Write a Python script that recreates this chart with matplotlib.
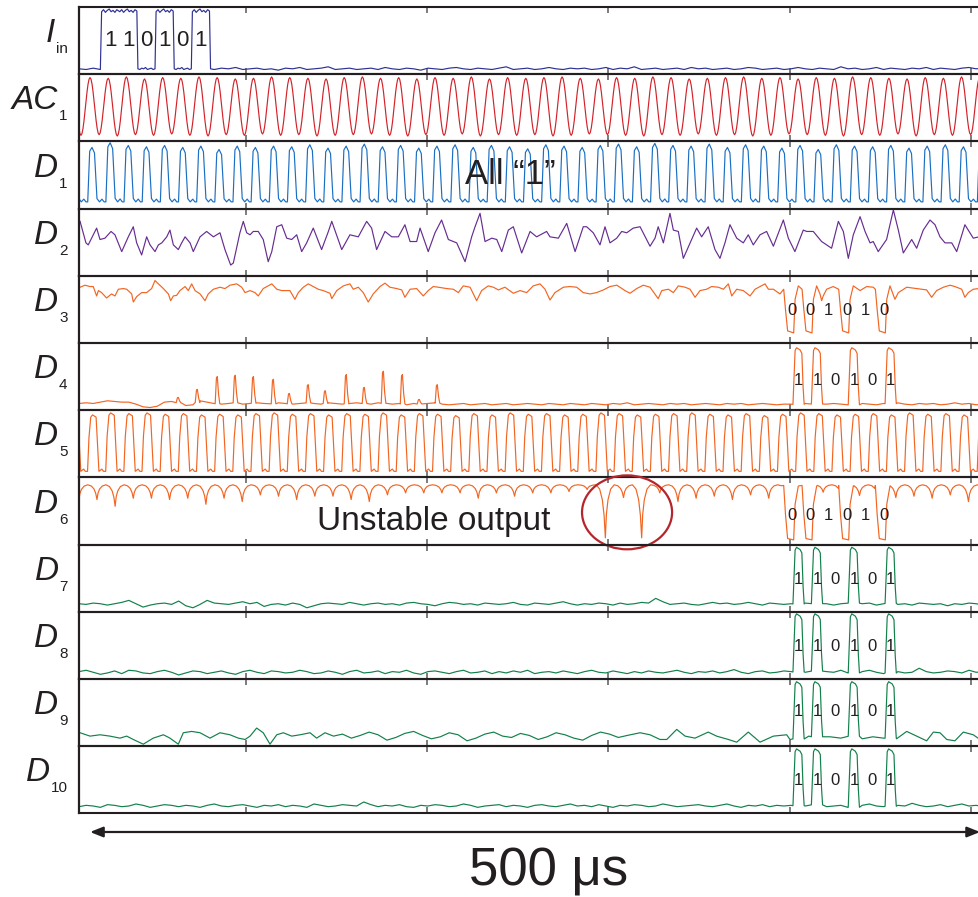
import numpy as np
import matplotlib
matplotlib.use("Agg")
import matplotlib.pyplot as plt
from matplotlib.patches import Ellipse, FancyArrowPatch
from matplotlib.transforms import blended_transform_factory

plt.rcParams['font.family'] = ['Liberation Sans', 'DejaVu Sans']

# ---------------------------------------------------------------- data
# All levels are given in percent of the panel height, times in µs.

carrier_period_us = 10.2
first_peak_us = 6.2
tick_us = [93.8, 195.5, 297.2, 399.4, 501.1]
scale_bar_start_us = 6.2
scale_bar_len_us = 500.0
noise_step_us = 4.0

# input word I_in (NRZ)
iin_bits = [1, 1, 0, 1, 0, 1]
iin_t0_us = 12.4
iin_bit_us = 10.2
iin_high_ripple = [93, 96, 92, 95, 97, 93, 95, 92, 96, 94]
iin_low_ripple = [8, 7, 9, 8, 10, 7, 8, 9, 7, 8]
iin_noise = [8, 7, 9, 7, 8, 9, 7, 8, 9, 8, 7, 9, 8, 10, 7, 8, 6, 9, 8, 7,
             9, 8, 10, 7, 8, 9, 7, 8, 6, 9, 8, 10, 7, 8, 9, 11, 7, 8, 9, 7,
             8, 9, 7, 10, 8, 7, 9, 8, 6, 9, 8, 7, 9, 10, 8, 7, 9, 8, 7, 9,
             11, 7, 8, 9, 7, 8, 10, 8, 7, 9, 8, 9, 7, 8, 10, 7, 9, 8, 11, 7,
             8, 9, 7, 8, 9, 7, 10, 8, 9, 7, 8, 9, 7, 8, 10, 9, 7, 8, 9, 7,
             8, 10, 8, 7, 9, 8, 7, 11, 8, 9, 7, 8, 10, 7, 9, 8, 7, 9, 8, 10,
             7, 9, 8, 7, 9, 10, 8, 9]

# AC_1 carrier: one period sampled from the peak, plus per-cycle extremes
ac1_shape = [1.0, 0.97, 0.883, 0.75, 0.587, 0.413, 0.25, 0.117, 0.03,
             0.0, 0.03, 0.117, 0.25, 0.413, 0.587, 0.75, 0.883, 0.97]
ac1_peak = [94, 95, 94, 96, 93, 95, 94, 96, 95, 93, 94, 96, 95, 94, 93, 95, 96,
            94, 95, 93, 95, 94, 96, 93, 95, 94, 95, 96, 94, 93, 95, 94, 96, 95,
            93, 94, 95, 96, 94, 95, 93, 95, 94, 96, 95, 94, 93, 95, 94, 96, 95, 94]
ac1_trough = [9, 10, 8, 10, 9, 11, 9, 8, 10, 9, 11, 9, 10, 8, 9, 10, 11, 9, 8,
              10, 9, 11, 8, 10, 9, 10, 8, 9, 11, 10, 9, 8, 10, 9, 11, 9, 10, 8,
              9, 11, 10, 9, 8, 10, 9, 11, 8, 10, 9, 10, 9, 10]

# D_1 pulse train
d1_shape_t = [0, 1.1, 2.4, 3.8, 5.2, 6.6, 8.0, 9.2]
d1_shape_v = [0, 0.93, 1.0, 0.9, 0.06, 0.0, 0.05, 0.0]
d1_lead_us = 1.3
d1_low = 10
d1_peak = [92, 91, 98, 94, 92, 94, 91, 93, 88, 93, 91, 93, 92, 95, 90, 93, 96,
           92, 94, 90, 93, 95, 91, 94, 92, 89, 95, 93, 91, 94, 96, 92, 97, 94,
           93, 96, 91, 95, 93, 90, 94, 88, 95, 93, 92, 94, 90, 93, 95, 92, 94, 93]

# D_2 trace
d2_t = [0.6, 3.9, 5.2, 9.9, 11.8, 14.6, 18.0, 20.2, 24.0, 27.7, 30.5, 32.4, 35.2,
        38.0, 39.9, 42.7, 44.6, 46.5, 49.3, 51.1, 53.0, 55.8, 57.7, 59.6, 62.4,
        64.2, 68.0, 71.7, 75.5, 79.2, 82.0, 85.2, 86.7, 90.4, 92.3, 94.2, 96.1,
        97.9, 100.7, 103.5, 106.3, 108.3, 111.1, 113.9, 116.7, 119.5, 122.3,
        125.1, 127.9, 131.6, 136.3, 140.1,
        142.0, 147.6, 152.2, 156.9, 161.6, 164.4, 167.2, 171.9, 175.7, 179.4,
        183.1, 186.0, 189.7, 191.6, 196.2, 200.0, 203.7, 207.5, 212.2, 216.9,
        220.6, 222.5, 225.3, 228.1, 231.9, 234.7, 237.5, 241.2, 244.0, 248.7,
        253.4, 257.1, 262.7, 264.6, 269.3, 274.0, 278.7, 283.3, 285.2, 288.9,
        292.7, 295.5, 298.3, 302.1, 304.9, 307.7, 311.4, 315.2,
        320.8, 323.6, 325.4, 328.3, 332.0, 333.9, 336.7, 339.5, 343.3, 347.0,
        349.8, 353.5, 357.3, 360.1, 362.9, 365.7, 369.5, 373.2, 376.0, 378.8,
        382.6, 386.3, 390.1, 395.7, 398.5, 402.2, 406.9, 408.8, 412.5, 417.2,
        422.8, 426.6, 429.4, 432.2, 435.0, 438.8, 441.6, 444.4, 446.2, 449.0,
        453.7, 457.5, 460.3, 463.1, 467.8, 470.6, 474.3, 478.1, 480.9, 483.7,
        486.5, 490.3, 493.1, 497.7, 502.4, 505.6]
d2_v = [81, 49, 46, 71, 54, 56, 66, 61, 36, 58, 73, 49, 31, 58, 46, 36, 46, 49,
        58, 68, 46, 39, 49, 58, 49, 36, 58, 66, 58, 64, 39, 16, 19, 64, 81, 64,
        61, 66, 66, 54, 21, 36, 73, 76, 56, 54, 61, 36, 49, 71, 39, 66,
        81, 39, 61, 58, 81, 71, 39, 66, 58, 58, 76, 51, 51, 71, 36, 64, 83, 54,
        49, 21, 58, 73, 93, 51, 56, 54, 36, 68, 73, 34, 66, 58, 66, 58, 56, 78,
        36, 73, 73, 64, 46, 73, 49, 56, 66, 64, 71, 73,
        44, 56, 73, 49, 93, 68, 66, 26, 49, 71, 58, 73, 39, 26, 49, 76, 56, 49,
        61, 46, 61, 66, 44, 83, 56, 36, 68, 66, 66, 51, 41, 81, 66, 26, 61, 88,
        66, 49, 51, 36, 54, 98, 68, 34, 54, 41, 68, 83, 76, 58, 49, 49, 36, 76,
        56, 58]

# D_3 background trace (outside the dips) and output word
d3_bg_t = [0.6, 3.4, 6.2, 8.0, 9.9, 10.9, 12.7, 15.5, 18.3, 20.2, 22.1, 24.9,
           26.8, 29.6, 30.5, 32.4, 35.2, 38.0, 40.8, 42.7, 44.6, 47.4, 50.2,
           51.5, 53.0, 54.9, 56.7, 59.6, 61.4, 63.3, 65.2, 68.0, 70.8, 72.6,
           75.5, 79.2, 82.0, 84.8, 88.6, 91.4, 93.3, 96.1, 98.9, 100.7, 103.5,
           108.3, 111.1, 113.9, 118.5, 121.3, 123.2, 126.0, 128.8, 131.6,
           134.4, 137.2, 141.0,
           142.0, 144.8, 148.5, 152.2, 154.1, 156.9, 159.7, 162.5, 165.3, 169.1,
           171.9, 174.7, 178.5, 181.3, 183.1, 186.0, 189.7, 193.4, 196.2, 199.0,
           201.9, 206.6, 210.3, 213.1, 215.9, 219.7, 223.4, 226.2, 229.9, 232.8,
           235.6, 239.3, 244.0, 247.8, 251.5, 255.2, 259.0, 261.8, 264.6, 267.4,
           272.1, 275.8, 279.6, 283.3, 287.1, 290.8, 294.6, 298.3, 302.1, 303.9,
           306.7, 309.6, 313.3, 317.0, 320.8, 325.4,
           327.4, 331.1, 333.9, 336.7, 340.5, 343.3, 346.1, 348.9, 352.6, 355.4,
           359.2, 362.0, 364.8, 366.7, 369.5, 373.2, 377.0, 379.8, 382.6, 385.4,
           387.3, 390.1, 393.8, 416.3, 417.2, 418.1, 420.0, 423.7, 438.8, 442.5,
           446.2, 458.4, 460.3, 465.0, 470.6, 476.2, 479.0, 481.8, 485.6, 489.3,
           492.1, 495.9, 497.7, 499.6, 502.4, 505.6]
d3_bg_v = [83, 86, 84, 84, 70, 78, 75, 67, 73, 70, 80, 81, 80, 73, 61, 69, 75,
           75, 81, 93, 88, 81, 73, 63, 70, 71, 78, 84, 78, 88, 78, 73, 63, 73,
           80, 83, 81, 86, 88, 83, 75, 78, 75, 70, 81, 88, 80, 78, 78, 65, 75,
           83, 88, 84, 80, 78, 74,
           66, 78, 85, 88, 80, 83, 75, 61, 73, 84, 89, 83, 81, 79, 68, 80, 81,
           70, 78, 84, 83, 81, 80, 75, 85, 83, 63, 78, 85, 83, 79, 83, 74, 78,
           75, 85, 88, 80, 64, 75, 83, 84, 83, 75, 73, 75, 79, 84, 86, 83, 78,
           74, 81, 86, 83, 66,
           78, 80, 75, 85, 83, 80, 68, 78, 80, 84, 83, 80, 88, 70, 80, 78, 70,
           80, 84, 88, 80, 80, 73, 73, 63, 70, 80, 84, 78, 84, 83, 65, 75, 83,
           81, 79, 68, 78, 83, 86, 84, 80, 68, 75, 80, 81]
d3_bits = [0, 0, 1, 0, 1, 0]
dip_t0_us = 395.9
dip_bit_us = 10.3
dip_shape_t = [0, 1.0, 2.2, 5.6, 6.4, 8.2]
d3_dip_v = [80, 50, 18, 15, 65, 85]

# D_4 baseline, spikes and recovered word
d4_noise = [10, 11, 10, 12, 14, 13, 12, 12, 9, 5, 4, 6, 12, 13, 11, 7, 8, 14, 12, 10,
            9, 10, 11, 9, 10, 11, 10, 9, 11, 10, 9, 10, 11, 10, 9, 11, 10, 9, 10, 11,
            10, 9, 11, 10, 9, 10, 8, 10, 9, 10, 11, 9, 8, 9, 10, 8, 9, 10, 8, 9,
            10, 8, 9, 10, 9, 8, 10, 9, 8, 10, 9, 8, 10, 9, 8, 10, 9, 11, 8, 9,
            10, 9, 8, 10, 9, 10, 8, 9, 10, 9, 8, 10, 9, 10, 8, 9, 10, 9, 8, 9,
            9, 8, 10, 9, 8, 9, 10, 9, 8, 9, 10, 9, 8, 10, 9, 11, 9, 8, 10, 9,
            10, 8, 9, 11, 9, 10, 8, 9]
d4_spike_t = [55.6, 66.3, 77.5, 87.6, 97.8, 109.0, 118.0, 128.6, 138.2, 150.0,
              160.1, 170.8, 181.5, 191.0, 201.1]
d4_spike_h = [19, 31, 50, 52, 50, 46, 25, 38, 29, 53, 34, 58, 53, 16, 38]
spike_shape_t = [-1.0, -0.3, 0.2, 0.9, 1.6]
spike_shape_v = [0, 0.95, 1.0, 0.35, 0]
word_bits = [1, 1, 0, 1, 0, 1]
word_t0_us = 401.1
word_bit_us = 10.35
pulse_shape_t = [0, 0.6, 1.2, 2.0, 4.0, 5.0, 5.7, 6.3]
pulse_shape_v = [0, 0.5, 0.95, 1.0, 0.96, 0.9, 0.3, 0]
d4_high = 93

# D_5 pulse train
d5_shape_t = [0, 0.8, 1.8, 2.8, 4.8, 5.7, 6.4, 8.0, 9.0]
d5_shape_v = [0, 0.6, 0.96, 1.0, 0.96, 0.4, 0.0, 0.04, 0.0]
d5_lead_us = 1.4
d5_low = 9
d5_peak = [93, 93, 96, 95, 96, 94, 95, 93, 94, 93, 95, 96, 94, 95, 93, 95, 94,
           96, 93, 95, 94, 92, 95, 93, 96, 94, 95, 93, 94, 96, 95, 93, 94, 95,
           96, 94, 93, 95, 92, 94, 96, 95, 93, 94, 95, 93, 96, 94, 95, 93, 94, 95]

# D_6 scalloped trace: cusp level per cycle, arc top, output word
d6_cusp = [65, 67, 57, 69, 69, 67, 69, 60, 69, 64, 74, 72, 67, 72, 72, 67, 64,
           74, 77, 77, 77, 77, 69, 77, 72, 77, 77, 79, 82, 10, 70, 10, 77, 64,
           69, 72, 67, 74, 69, 72, 70, 78, 70, 73, 70, 70, 72, 69, 74, 64, 70, 70]
d6_top = 89
d6_cusp_delay_us = 3.9
d6_shape_t = [0, 0.6, 1.5, 3.0, 5.0, 7.0, 8.5, 9.5]
d6_shape_v = [0, 0.45, 0.72, 0.92, 1.0, 0.92, 0.72, 0.42]
d6_bits = [0, 0, 1, 0, 1, 0]
d6_dip_v = [88, 45, 9, 7, 60, 87]

# D_7 ... D_10 baselines
d7_noise = [12, 11, 13, 12, 10, 12, 14, 17, 12, 7, 10, 12, 13, 11, 16, 9, 6, 11, 17, 13,
            12, 11, 13, 15, 12, 14, 8, 11, 12, 10, 13, 11, 6, 9, 12, 13, 12, 11, 14, 12,
            10, 12, 13, 11, 12, 10, 13, 14, 12, 11, 9, 12, 14, 13, 11, 12, 10, 13, 12, 11,
            12, 14, 11, 10, 13, 12, 11, 13, 15, 12, 10, 12, 11, 13, 12, 10, 13, 11, 12, 14,
            13, 20, 15, 11, 12, 13, 11, 10, 12, 14, 12, 13, 11, 12, 14, 12, 10, 13, 12, 11,
            12, 11, 13, 12, 11, 12, 10, 12, 13, 11, 12, 13, 10, 12, 14, 11, 12, 10, 13, 12,
            11, 12, 9, 12, 11, 13, 12, 10]
d8_noise = [11, 13, 10, 7, 9, 12, 8, 13, 12, 9, 8, 11, 13, 10, 6, 9, 12, 11, 8, 10,
            12, 9, 7, 11, 13, 10, 8, 12, 11, 9, 10, 13, 11, 8, 9, 12, 10, 7, 11, 13,
            9, 10, 12, 8, 11, 10, 13, 9, 7, 11, 12, 10, 8, 11, 13, 9, 10, 12, 8, 11,
            9, 12, 10, 13, 8, 10, 11, 9, 12, 10, 8, 11, 13, 10, 9, 12, 10, 8, 11, 9,
            12, 10, 9, 11, 13, 10, 8, 11, 10, 12, 9, 11, 14, 10, 8, 11, 12, 9, 10, 12,
            11, 9, 10, 12, 8, 11, 10, 13, 9, 10, 11, 13, 10, 8, 12, 11, 9, 10, 16, 11,
            9, 10, 12, 11, 9, 13, 10, 11]
d9_t = [0.6, 6.2, 11.8, 17.4, 23.0, 26.8, 30.5, 36.1, 41.7, 47.4, 51.1, 55.8,
        58.6, 63.3, 68.0, 73.6, 79.2, 84.8, 89.5, 93.3, 96.1, 99.8, 103.5, 107.3,
        111.1, 114.8, 119.5, 124.2, 129.8, 133.5, 138.2,
        143, 148, 153, 158, 163, 168, 173, 178, 183, 188, 193, 198, 203, 208,
        213, 218, 223, 228, 233, 238, 243, 248, 253, 258, 263, 268, 273, 278,
        283, 288, 293, 298, 303, 308,
        315.2, 320.8, 326.4, 330.2, 335.8, 340.5, 346.1, 353.5, 358.2, 364.8,
        369.5, 376.0, 382.6, 390.1, 397.6, 399.4,
        404, 410, 416, 422, 428, 434, 440, 446, 452,
        459.3, 465.0, 470.6, 476.2, 480.0, 483.7, 487.5, 492.1, 496.8, 502.4,
        505.6, 510.0]
d9_v = [20, 15, 17, 15, 12, 15, 10, 3, 12, 17, 12, 3, 20, 22, 20, 12, 20, 17, 12,
        10, 15, 27, 20, 3, 17, 20, 15, 17, 20, 12, 20,
        15, 18, 12, 16, 21, 17, 9, 13, 19, 22, 16, 11, 14, 20, 17, 8, 12, 18, 21,
        15, 13, 19, 16, 10, 14, 20, 17, 12, 9, 16, 21, 18, 13, 16,
        20, 17, 10, 10, 25, 15, 12, 21, 15, 10, 6, 21, 6, 15, 17, 10,
        12, 15, 11, 14, 12, 16, 11, 14, 12,
        11, 22, 15, 8, 21, 20, 10, 8, 21, 17, 11, 14]
d10_noise = [10, 12, 11, 9, 13, 12, 10, 11, 14, 12, 9, 11, 13, 12, 10, 12, 11, 9, 12, 14,
             11, 10, 12, 13, 11, 9, 12, 11, 13, 10, 12, 11, 9, 14, 12, 10, 11, 13, 12, 11,
             17, 13, 10, 12, 11, 13, 10, 9, 12, 11, 13, 12, 10, 11, 14, 12, 9, 11, 12, 13,
             10, 12, 11, 9, 12, 13, 11, 10, 12, 14, 11, 12, 10, 13, 11, 9, 12, 11, 13, 12,
             10, 11, 14, 12, 10, 11, 12, 13, 11, 10, 12, 14, 11, 9, 12, 11, 13, 10, 12, 11,
             12, 10, 11, 13, 12, 10, 11, 12, 9, 11, 12, 14, 11, 10, 13, 12, 11, 15, 12, 10,
             11, 13, 10, 12, 14, 11, 12, 10]
d7_high, d8_high, d9_high, d10_high = 96, 97, 96, 96

label_main = ['I', 'AC', 'D', 'D', 'D', 'D', 'D', 'D', 'D', 'D', 'D', 'D']
label_sub = ['in', '1', '1', '2', '3', '4', '5', '6', '7', '8', '9', '10']

# ---------------------------------------------------------------- builders
def noise_grid(vals):
    return np.arange(len(vals)) * noise_step_us, np.asarray(vals, float)


def splice(bg_t, bg_v, cuts, ins_t, ins_v):
    bg_t = np.asarray(bg_t, float)
    bg_v = np.asarray(bg_v, float)
    keep = np.ones(len(bg_t), bool)
    for a, b in cuts:
        keep &= ~((bg_t >= a) & (bg_t <= b))
    t = np.concatenate([bg_t[keep], np.asarray(ins_t, float)])
    v = np.concatenate([bg_v[keep], np.asarray(ins_v, float)])
    order = np.argsort(t, kind='stable')
    return t[order], v[order]


def cycle_peak_time(j):
    return first_peak_us + carrier_period_us * (j - 1)


def build_carrier():
    t, v = [], []
    n = len(ac1_peak)
    m = len(ac1_shape)
    for j in range(n):
        tp = cycle_peak_time(j)
        nxt = ac1_peak[min(j + 1, n - 1)]
        for s, sh in enumerate(ac1_shape):
            top = ac1_peak[j] if s < m // 2 else nxt
            t.append(tp + carrier_period_us * s / m)
            v.append(ac1_trough[j] + (top - ac1_trough[j]) * sh)
    return np.array(t), np.array(v)


def build_train(peaks, low, shape_t, shape_v, lead):
    t, v = [], []
    for j, pk in enumerate(peaks):
        start = cycle_peak_time(j) - lead
        for rt, sv in zip(shape_t, shape_v):
            t.append(start + rt)
            v.append(low + (pk - low) * sv)
    return np.array(t), np.array(v)


def build_scallops():
    t, v = [], []
    n = len(d6_cusp)
    for j in range(n):
        tc = cycle_peak_time(j) + d6_cusp_delay_us
        c0, c1 = d6_cusp[j], d6_cusp[min(j + 1, n - 1)]
        for rt, sv in zip(d6_shape_t, d6_shape_v):
            c = c0 if rt < 5 else c1
            t.append(tc + rt)
            v.append(c + (d6_top - c) * sv)
    return np.array(t), np.array(v)


def add_dips(bg_t, bg_v, bits, dip_v):
    cuts, it, iv = [], [], []
    for i, b in enumerate(bits):
        if b == 0:
            a = dip_t0_us + i * dip_bit_us
            cuts.append((a - 0.05, a + dip_shape_t[-1] + 0.05))
            it += [a + r for r in dip_shape_t]
            iv += list(dip_v)
    return splice(bg_t, bg_v, cuts, it, iv)


def add_pulses(bg_t, bg_v, bits, high):
    cuts, it, iv = [], [], []
    for i, b in enumerate(bits):
        if b == 1:
            a = word_t0_us + i * word_bit_us
            lo = np.interp(a, bg_t, bg_v)
            cuts.append((a - 0.05, a + pulse_shape_t[-1] + 0.05))
            it += [a + r for r in pulse_shape_t]
            iv += [lo + (high - lo) * s for s in pulse_shape_v]
    return splice(bg_t, bg_v, cuts, it, iv)


def add_spikes(bg_t, bg_v, times, heights):
    cuts, it, iv = [], [], []
    for tc, h in zip(times, heights):
        base = np.interp(tc, bg_t, bg_v)
        cuts.append((tc + spike_shape_t[0] - 0.05, tc + spike_shape_t[-1] + 0.05))
        it += [tc + r for r in spike_shape_t]
        iv += [base + (h - base) * s for s in spike_shape_v]
    return splice(bg_t, bg_v, cuts, it, iv)


def build_input():
    bg_t, bg_v = noise_grid(iin_noise)
    t_end = iin_t0_us + len(iin_bits) * iin_bit_us
    it, iv = [], []
    n = len(iin_high_ripple)
    for i, b in enumerate(iin_bits):
        a = iin_t0_us + i * iin_bit_us
        src = iin_high_ripple if b else iin_low_ripple
        for j in range(n):
            it.append(a + 0.3 + j * (iin_bit_us - 0.6) / (n - 1))
            iv.append(src[j])
    it.append(t_end + 0.3)
    iv.append(iin_low_ripple[0])
    return splice(bg_t, bg_v, [(iin_t0_us - 0.1, t_end + 0.6)], it, iv)


traces = []
traces.append(build_input())
traces.append(build_carrier())
traces.append(build_train(d1_peak, d1_low, d1_shape_t, d1_shape_v, d1_lead_us))
traces.append((np.array(d2_t), np.array(d2_v, float)))
traces.append(add_dips(d3_bg_t, d3_bg_v, d3_bits, d3_dip_v))
t4, v4 = noise_grid(d4_noise)
t4, v4 = add_spikes(t4, v4, d4_spike_t, d4_spike_h)
traces.append(add_pulses(t4, v4, word_bits, d4_high))
traces.append(build_train(d5_peak, d5_low, d5_shape_t, d5_shape_v, d5_lead_us))
t6, v6 = build_scallops()
traces.append(add_dips(t6, v6, d6_bits, d6_dip_v))
for vals, hi in ((d7_noise, d7_high), (d8_noise, d8_high)):
    tt, vv = noise_grid(vals)
    traces.append(add_pulses(tt, vv, word_bits, hi))
traces.append(add_pulses(np.array(d9_t, float), np.array(d9_v, float), word_bits, d9_high))
tt, vv = noise_grid(d10_noise)
traces.append(add_pulses(tt, vv, word_bits, d10_high))

colors = ['#2e3192', '#d2232a', '#1b6fc2', '#662d91',
          '#f26522', '#f26522', '#f26522', '#f26522',
          '#12804a', '#12804a', '#12804a', '#12804a']
ink = '#231f20'

# ---------------------------------------------------------------- layout
W, H = 979, 897
left_px, right_px = 79, 990
top_px, panel_h = 7.0, 67.2
label_right_px = 67.5
us_per_px = scale_bar_len_us / 890.0
x_max_us = (right_px - left_px) * us_per_px

fig = plt.figure(figsize=(W / 100, H / 100), dpi=100)
fig.patch.set_facecolor('white')
renderer = fig.canvas.get_renderer()

axes = []
for i in range(12):
    bottom = top_px + panel_h * (i + 1)
    ax = fig.add_axes([left_px / W, 1 - bottom / H, (right_px - left_px) / W, panel_h / H])
    ax.set_xlim(0, x_max_us)
    ax.set_ylim(0, 100)
    ax.set_yticks([])
    ax.set_xticks(tick_us)
    ax.tick_params(axis='x', direction='in', top=True, bottom=True, length=4.6,
                   width=1.1, color='#58595b', labelbottom=False, labeltop=False)
    for side in ('top', 'bottom'):
        ax.spines[side].set_linewidth(1.5)
        ax.spines[side].set_color(ink)
    ax.spines['left'].set_linewidth(1.6)
    ax.spines['left'].set_color(ink)
    ax.spines['right'].set_visible(False)
    ax.patch.set_alpha(0)
    t, v = traces[i]
    ax.plot(t, v, color=colors[i], lw=0.85, solid_joinstyle='round', zorder=2)
    axes.append(ax)

    # panel name with subscript
    base_px = top_px + panel_h * i + panel_h / 2 + 1.5
    sub = fig.text(label_right_px / W, 1 - (base_px + 11) / H, label_sub[i],
                   fontsize=11, ha='right', va='baseline', color=ink)
    bb = sub.get_window_extent(renderer)
    fig.text((bb.x0 - 0.5) / W, 1 - base_px / H, label_main[i], fontsize=24,
             style='italic', ha='right', va='baseline', color=ink)

# bit annotations
for i, b in enumerate(iin_bits):
    axes[0].text(iin_t0_us + (i + 0.5) * iin_bit_us, 42, str(b), fontsize=16,
                 ha='center', va='baseline', color=ink, zorder=4)
for idx, bits, lev in ((4, d3_bits, 42), (7, d6_bits, 37)):
    for i, b in enumerate(bits):
        axes[idx].text(dip_t0_us + i * dip_bit_us + 4.6, lev, str(b), fontsize=12,
                       ha='center', va='baseline', color=ink, zorder=4)
for idx, lev in ((5, 38), (8, 41), (9, 41), (10, 45), (11, 42)):
    for i, b in enumerate(word_bits):
        axes[idx].text(word_t0_us + i * word_bit_us + 3.2, lev, str(b), fontsize=12,
                       ha='center', va='baseline', color=ink, zorder=4)

axes[2].text(242.4, 36, 'All \u201c1\u201d', fontsize=25, ha='center',
             va='baseline', color=ink, zorder=4)
axes[7].text(133.7, 22, 'Unstable output', fontsize=24, ha='left',
             va='baseline', color=ink, zorder=4)
axes[7].add_patch(Ellipse((307.9, 48), 50.6, 110, fill=False, ec='#b5262c',
                          lw=1.6, clip_on=False, zorder=5))

# 500 µs scale bar under the stack
bar_tr = blended_transform_factory(axes[-1].transData, fig.transFigure)
y_bar = 1 - 832 / H
arrow = FancyArrowPatch((scale_bar_start_us, y_bar),
                        (scale_bar_start_us + scale_bar_len_us, y_bar),
                        transform=bar_tr,
                        arrowstyle='<|-|>,head_length=0.55,head_width=0.22',
                        mutation_scale=14, lw=1.6, color=ink,
                        shrinkA=0, shrinkB=0)
fig.add_artist(arrow)
fig.text(549 / W, 1 - 885 / H, '500 \u03bcs', fontsize=38, ha='center',
         va='baseline', color=ink)

fig.savefig('out.png', dpi=100, facecolor='white')
